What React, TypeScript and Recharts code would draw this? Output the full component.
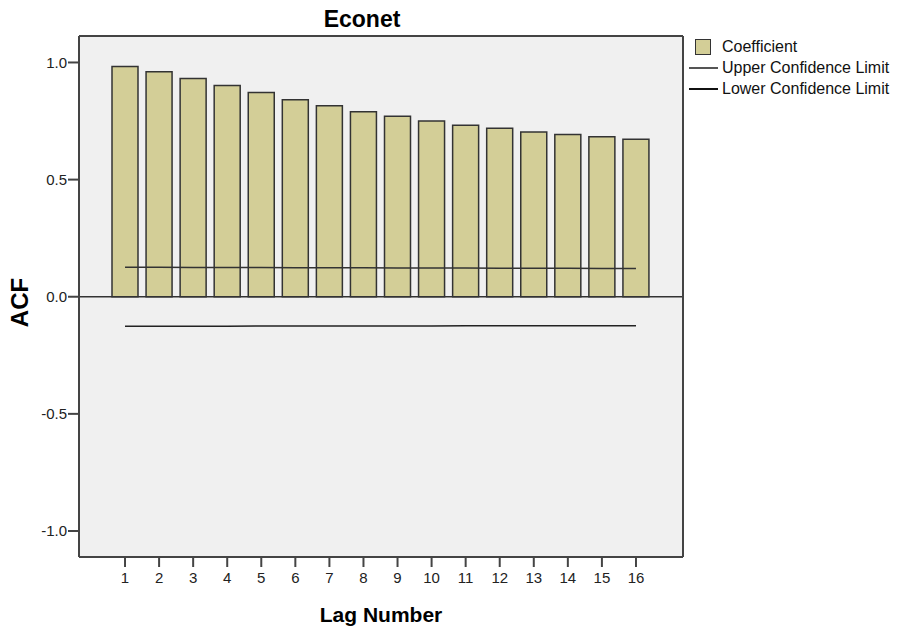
import { ComposedChart, Bar, Line, XAxis, YAxis, CartesianGrid, ReferenceLine, Legend } from 'recharts'

const FONT = '"Liberation Sans", Arial, Helvetica, sans-serif'

const lags = ['1', '2', '3', '4', '5', '6', '7', '8', '9', '10', '11', '12', '13', '14', '15', '16']
const coefficients = [0.983, 0.96, 0.932, 0.902, 0.872, 0.841, 0.815, 0.79, 0.77, 0.75, 0.732, 0.719, 0.703, 0.693, 0.683, 0.672]
const upperLimits = [0.126, 0.126, 0.125, 0.125, 0.125, 0.124, 0.124, 0.124, 0.123, 0.123, 0.123, 0.122, 0.122, 0.122, 0.121, 0.121]
const lowerLimits = [-0.126, -0.126, -0.126, -0.126, -0.125, -0.125, -0.125, -0.125, -0.125, -0.125, -0.124, -0.124, -0.124, -0.124, -0.124, -0.124]
const yTicks = [-1, -0.5, 0, 0.5, 1]
const seriesNames = ['Coefficient', 'Upper Confidence Limit', 'Lower Confidence Limit']

const data = lags.map((lag, i) => ({
    lag,
    coefficient: coefficients[i],
    upper: upperLimits[i],
    lower: lowerLimits[i],
}))

const renderLegend = () => (
    <div style={{ fontFamily: FONT, fontSize: 16, color: '#111' }}>
        <div style={{ display: 'flex', alignItems: 'center', height: 21 }}>
            <div style={{ marginLeft: 7, width: 14, height: 14, background: '#d3ce97', border: '1px solid #333' }} />
            <span style={{ marginLeft: 11 }}>{seriesNames[0]}</span>
        </div>
        <div style={{ display: 'flex', alignItems: 'center', height: 21 }}>
            <div style={{ marginLeft: 1, width: 29, height: 2, background: '#555' }} />
            <span style={{ marginLeft: 4 }}>{seriesNames[1]}</span>
        </div>
        <div style={{ display: 'flex', alignItems: 'center', height: 21 }}>
            <div style={{ marginLeft: 1, width: 29, height: 2, background: '#111' }} />
            <span style={{ marginLeft: 4 }}>{seriesNames[2]}</span>
        </div>
    </div>
)

const TitleLabel = (props: any) => {
    const vb = props.viewBox
    return (
        <text x={vb.x + vb.width / 2 - 19} y={26.5} textAnchor="middle" fontFamily={FONT} fontSize={23} fontWeight="bold" fill="#000">
            Econet
        </text>
    )
}

const XLabel = (props: any) => {
    const vb = props.viewBox
    return (
        <text x={vb.x + vb.width / 2} y={621.5} textAnchor="middle" fontFamily={FONT} fontSize={21} fontWeight="bold" fill="#000">
            Lag Number
        </text>
    )
}

const YLabel = (props: any) => {
    const vb = props.viewBox
    const cy = vb.y + vb.height / 2 + 6
    return (
        <text x={28} y={cy} transform={`rotate(-90, 28, ${cy})`} textAnchor="middle" fontFamily={FONT} fontSize={24} fontWeight="bold" fill="#000">
            ACF
        </text>
    )
}

const App = () => {
    return (
        <div style={{ position: 'absolute', left: 0, top: 0 }}>
            <ComposedChart width={898} height={631} data={data} margin={{ top: 35, right: 214, bottom: 0, left: 0 }}>
                <CartesianGrid fill="#f0f0f0" horizontal={false} vertical={false} />
                <XAxis
                    dataKey="lag"
                    height={74}
                    interval={0}
                    padding={{ left: 29, right: 30 }}
                    tickSize={10}
                    tickMargin={5}
                    tick={{ fontSize: 15, fill: '#222', fontFamily: FONT }}
                    axisLine={{ stroke: '#444', strokeWidth: 2 }}
                    tickLine={{ stroke: '#444', strokeWidth: 2 }}
                    label={{ content: XLabel }}
                />
                <XAxis
                    xAxisId="top"
                    orientation="top"
                    dataKey="lag"
                    height={1}
                    tick={false}
                    tickLine={false}
                    axisLine={{ stroke: '#444', strokeWidth: 2 }}
                    label={{ content: TitleLabel }}
                />
                <YAxis
                    width={79}
                    domain={[-1.111, 1.113]}
                    ticks={yTicks}
                    allowDataOverflow
                    tickFormatter={(v: number) => v.toFixed(1)}
                    tickSize={11}
                    tickMargin={1}
                    tick={{ fontSize: 15, fill: '#222', fontFamily: FONT }}
                    axisLine={{ stroke: '#444', strokeWidth: 2 }}
                    tickLine={{ stroke: '#444', strokeWidth: 2 }}
                    label={{ content: YLabel }}
                />
                <YAxis
                    yAxisId="right"
                    orientation="right"
                    width={1}
                    domain={[-1.111, 1.113]}
                    tick={false}
                    tickLine={false}
                    axisLine={{ stroke: '#444', strokeWidth: 2 }}
                />
                <Bar dataKey="coefficient" name={seriesNames[0]} fill="#d3ce97" stroke="#333" strokeWidth={1.5} barSize={26} isAnimationActive={false} />
                <ReferenceLine y={0} stroke="#333" strokeWidth={1.5} />
                <Line dataKey="upper" name={seriesNames[1]} type="linear" stroke="#333" strokeWidth={1.5} dot={false} activeDot={false} isAnimationActive={false} />
                <Line dataKey="lower" name={seriesNames[2]} type="linear" stroke="#222" strokeWidth={1.5} dot={false} activeDot={false} isAnimationActive={false} />
                <Legend
                    layout="vertical"
                    align="center"
                    verticalAlign="middle"
                    content={renderLegend}
                    wrapperStyle={{ left: 688, top: 36, width: 210 }}
                />
            </ComposedChart>
        </div>
    )
}

export default App
